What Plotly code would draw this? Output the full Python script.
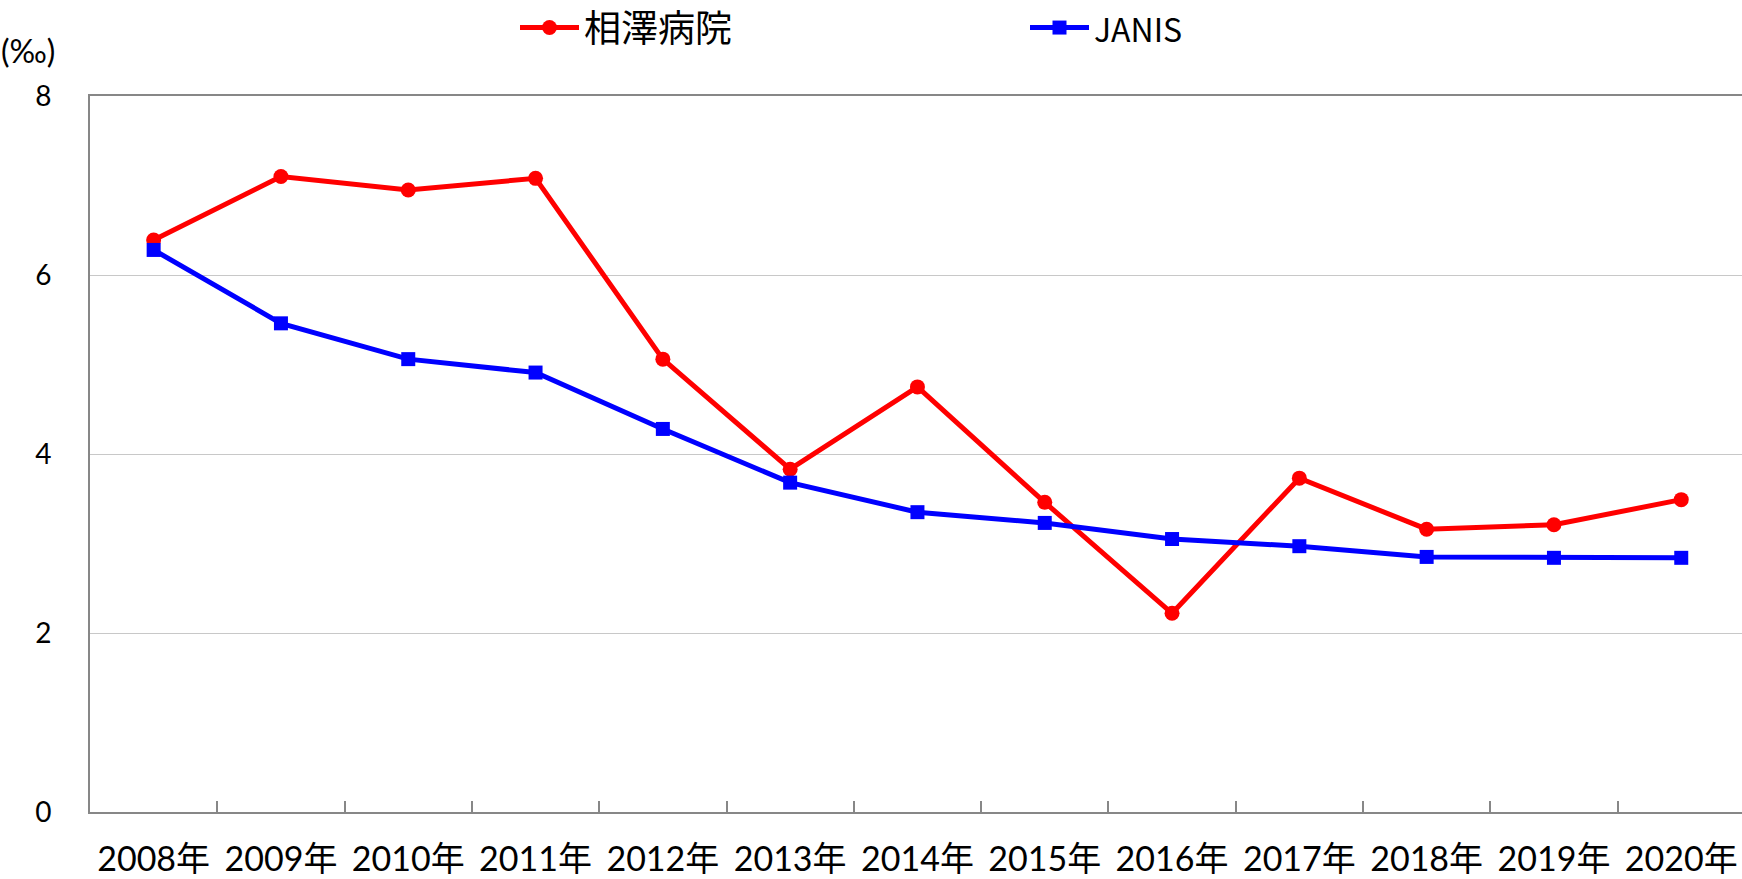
import plotly.graph_objects as go

years = ["2008年", "2009年", "2010年", "2011年", "2012年", "2013年", "2014年",
         "2015年", "2016年", "2017年", "2018年", "2019年", "2020年"]
aizawa = [6.39, 7.10, 6.95, 7.08, 5.06, 3.83, 4.75, 3.46, 2.22, 3.73, 3.16, 3.21, 3.49]
janis = [6.28, 5.46, 5.06, 4.91, 4.28, 3.68, 3.35, 3.23, 3.05, 2.97, 2.85, 2.84, 2.84]
y_ticks = [0, 2, 4, 6, 8]

W, H = 1742, 879
L, R, T, B = 90, 0, 96, 67
step = 127.3
plot_w = W - L - R

fig = go.Figure()
fig.add_trace(go.Scatter(
    x=years, y=aizawa, name="相澤病院", mode="lines+markers",
    line=dict(color="#FF0000", width=5),
    marker=dict(symbol="circle", size=15, color="#FF0000"),
))
fig.add_trace(go.Scatter(
    x=years, y=janis, name="<span style='font-size:32px'>JANIS</span>", mode="lines+markers",
    line=dict(color="#0000FF", width=5),
    marker=dict(symbol="square", size=14, color="#0000FF"),
))

fig.update_layout(
    width=W, height=H,
    margin=dict(l=L, r=R, t=T, b=B, autoexpand=False),
    paper_bgcolor="white", plot_bgcolor="white",
    font=dict(family="Lato, 'Noto Sans CJK JP'", color="black"),
    showlegend=True,
    legend=dict(
        orientation="h", x=(515 - L) / plot_w, xanchor="left",
        y=(H - B - 28) / (H - T - B), yanchor="middle",
        font=dict(family="'Liberation Sans Narrow', 'Noto Sans CJK JP'", size=37, color="black"),
        entrywidth=436, entrywidthmode="pixels", itemwidth=59,
        bgcolor="rgba(0,0,0,0)",
    ),
    xaxis=dict(
        type="category",
        range=[-0.5, -0.5 + plot_w / step],
        showline=True, linecolor="#878787", linewidth=2, mirror=True,
        ticks="inside", tickson="boundaries", ticklen=11, tickcolor="#878787", tickwidth=1.5,
        showgrid=False, zeroline=False,
        tickfont=dict(size=34, family="Lato, 'Noto Sans CJK JP'"),
        ticklabelstandoff=16,
    ),
    yaxis=dict(
        range=[0, 8], tickmode="array", tickvals=y_ticks, ticktext=[str(v) for v in y_ticks],
        showline=True, linecolor="#878787", linewidth=2,
        showgrid=True, gridcolor="#C8C8C8", gridwidth=1.3,
        zeroline=False, ticks="",
        tickfont=dict(size=28, family="Lato, 'Noto Sans CJK JP'"),
        ticklabelstandoff=31,
    ),
)

fig.add_annotation(
    text="(‰)", xref="paper", yref="paper",
    x=(28 - L) / plot_w, y=(H - B - 50) / (H - T - B),
    xanchor="center", yanchor="middle", showarrow=False,
    font=dict(size=32, family="Lato, 'Noto Sans CJK JP'", color="black"),
)

fig.write_html("out.html", config={"displayModeBar": False},
               post_script="document.body.style.margin='0';")
